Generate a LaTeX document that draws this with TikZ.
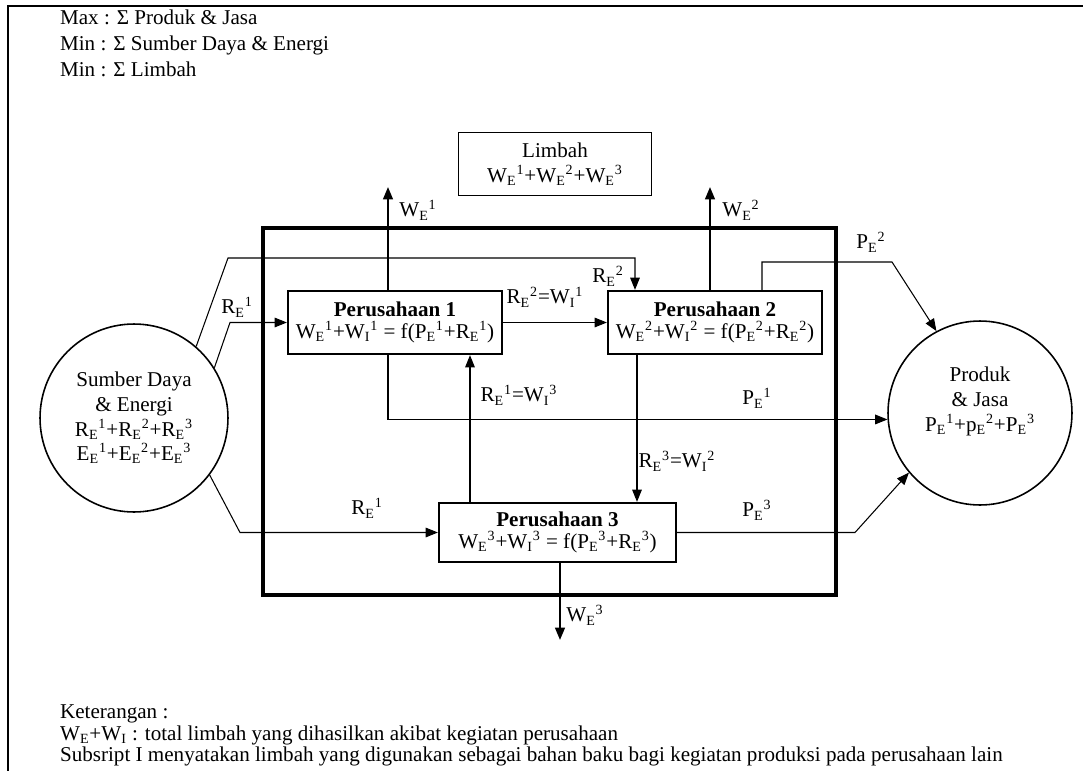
\documentclass[tikz,border=0pt]{standalone}
\usepackage{fontspec}
\setmainfont{Liberation Serif}
\usetikzlibrary{arrows.meta, calc}

% index with subscript then superscript, as R_E^1
\newcommand{\sx}[3]{#1\textsubscript{#2}\textsuperscript{#3}}

\begin{document}
\begin{tikzpicture}[
    x=0.02cm, y=-0.02cm,
    >={Triangle[length=7pt, width=5.5pt]}, % Set default arrow tip style
    font=\fontsize{12}{14}\selectfont,
    firm/.style={draw, line width=1.3pt, minimum width=4.28cm, minimum height=1.26cm, align=center, inner sep=1pt, font=\fontsize{12}{12.5}\selectfont}, % company box
    pool/.style={draw, circle, line width=0.9pt, minimum size=3.76cm, align=center, inner sep=0pt}, % source / product
    flow/.style={->, line width=0.6pt},
    waste/.style={->, line width=1.2pt},
    lbl/.style={inner sep=1pt}
]

% Page frame
\useasboundingbox (0,0) rectangle (1083,771);
\draw[line width=1.3pt] (8,771) -- (8,6) -- (1083,6);

% Objectives
\node[lbl, anchor=base west] (goal1) at (58,24) {Max : Σ Produk \& Jasa};
\node[lbl, anchor=base west] (goal2) at (58,50) {Min : Σ Sumber Daya \& Energi};
\node[lbl, anchor=base west] (goal3) at (58,76) {Min : Σ Limbah};

% System boundary
\draw[line width=2.4pt] (263,228) rectangle (836,595);

% Waste box
\node[draw, line width=0.6pt, minimum width=3.86cm, minimum height=1.26cm, align=center, inner sep=1pt] (limbah) at (555,164)
    {Limbah\\ \sx{W}{E}{1}+\sx{W}{E}{2}+\sx{W}{E}{3}};

% Companies
\node[firm] (p1) at (395,322.5) {\textbf{Perusahaan 1}\\ \sx{W}{E}{1}+\sx{W}{I}{1} = f(\sx{P}{E}{1}+\sx{R}{E}{1})};
\node[firm] (p2) at (715,322.5) {\textbf{Perusahaan 2}\\ \sx{W}{E}{2}+\sx{W}{I}{2} = f(\sx{P}{E}{2}+\sx{R}{E}{2})};
\node[firm, minimum width=4.74cm, minimum height=1.18cm] (p3) at (557.5,532.5) {\textbf{Perusahaan 3}\\ \sx{W}{E}{3}+\sx{W}{I}{3} = f(\sx{P}{E}{3}+\sx{R}{E}{3})};

% Source and product circles
\node[pool] (src) at (134,418) {Sumber Daya\\ \& Energi\\ \sx{R}{E}{1}+\sx{R}{E}{2}+\sx{R}{E}{3}\\ \sx{E}{E}{1}+\sx{E}{E}{2}+\sx{E}{E}{3}};
\node[pool, minimum size=3.68cm, text depth=0.55cm] (prod) at (980,413) {Produk\\ \& Jasa\\ \sx{P}{E}{1}+\sx{p}{E}{2}+\sx{P}{E}{3}};

% Define lanes and free ends
\coordinate (lane1) at (388,0);
\coordinate (up31) at (470,0);
\coordinate (dn23) at (637,0);
\coordinate (in2) at (635,0);
\coordinate (out2) at (762,0);
\coordinate (we1) at (388,187);
\coordinate (we2) at (710,187);
\coordinate (we3) at (560,640);

% Waste outputs
\draw[waste] (p1.north -| we1) -- (we1);
\draw[waste] (p2.north -| we2) -- (we2);
\draw[waste] (p3.south -| we3) -- (we3);

% Material flows
\draw[flow] (src.49) -- (228,258) -| (p2.north -| in2);
\draw[flow] (src.32) -- (230,322.5) -- (p1.west);
\draw[flow] (p1.east) -- (p2.west);
\draw[flow] (p1.south -| lane1) |- (prod.184);
\draw[flow] (p3.north -| up31) -- (p1.south -| up31);
\draw[flow] (p2.south -| dn23) -- (p3.north -| dn23);
\draw[flow] (src.-37) -- (240,532.5) -- (p3.west);
\draw[flow] (p3.east) -- (855,532.5) -- (prod.220);
\draw[flow] (p2.north -| out2) |- (892,262) -- (prod.118);

% Flow labels
\node[lbl] (lwe1) at (418,210) {\sx{W}{E}{1}};
\node[lbl] (lwe2) at (741,210) {\sx{W}{E}{2}};
\node[lbl] (lwe3) at (585,615) {\sx{W}{E}{3}};
\node[lbl] (lre2) at (608,276) {\sx{R}{E}{2}};
\node[lbl] (lre1a) at (237,307) {\sx{R}{E}{1}};
\node[lbl] (l12) at (545,297) {\sx{R}{E}{2}=\sx{W}{I}{1}};
\node[lbl] (l31) at (519,395) {\sx{R}{E}{1}=\sx{W}{I}{3}};
\node[lbl] (lpe1) at (757,398) {\sx{P}{E}{1}};
\node[lbl] (l23) at (677,461) {\sx{R}{E}{3}=\sx{W}{I}{2}};
\node[lbl] (lpe2) at (871,242) {\sx{P}{E}{2}};
\node[lbl] (lre1b) at (367,508) {\sx{R}{E}{1}};
\node[lbl] (lpe3) at (757,510) {\sx{P}{E}{3}};

% Notes
\node[lbl, anchor=base west] (note1) at (58,718) {Keterangan :};
\node[lbl, anchor=base west] (note2) at (58,740) {W\textsubscript{E}+W\textsubscript{I} : total limbah yang dihasilkan akibat kegiatan perusahaan};
\node[lbl, anchor=base west] (note3) at (58,761) {Subsript I menyatakan limbah yang digunakan sebagai bahan baku bagi kegiatan produksi pada perusahaan lain};

\end{tikzpicture}
\end{document}
